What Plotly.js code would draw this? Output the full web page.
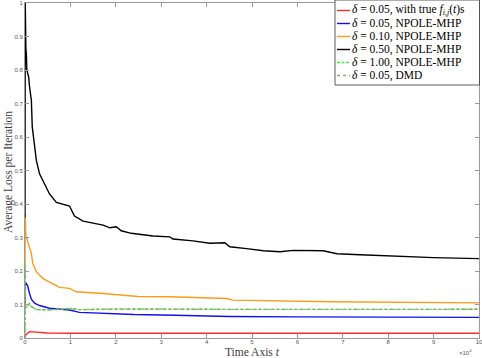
<!DOCTYPE html>
<html>
<head>
<meta charset="utf-8">
<script src="https://cdn.plot.ly/plotly-3.0.1.min.js"></script>
<style>
  html, body { margin: 0; padding: 0; background: #fff; }
  #chart { width: 482px; height: 358px; }
</style>
</head>
<body>
<div id="chart"></div>
<script>
// time axis values are in units of 10^4 iterations
const tRed = [0, 0.02, 0.1, 0.25, 0.5, 1, 3, 6, 10];
const lossRed = [0.0, 0.010, 0.019, 0.017, 0.015, 0.014, 0.014, 0.014, 0.014];

const tBlue = [0, 0.01, 0.03, 0.06, 0.1, 0.14, 0.21, 0.32, 0.54, 0.98, 1.2, 1.6, 2.4, 3.3, 4.5, 6, 8, 10];
const lossBlue = [0.10, 0.160, 0.163, 0.155, 0.133, 0.116, 0.104, 0.097, 0.089, 0.0836, 0.0766, 0.074, 0.070, 0.068, 0.064, 0.063, 0.062, 0.0617];

const tOrange = [0, 0.005, 0.02, 0.04, 0.08, 0.14, 0.17, 0.25, 0.39, 0.61, 0.76, 0.98, 1.13, 1.72, 2.09, 2.49, 3.19, 4.44, 4.58, 6.72, 10];
const lossOrange = [0.20, 0.37, 0.30, 0.298, 0.278, 0.253, 0.223, 0.198, 0.178, 0.163, 0.151, 0.148, 0.138, 0.133, 0.128, 0.124, 0.123, 0.118, 0.113, 0.108, 0.105];

const tBlack = [0, 0.005, 0.01, 0.02, 0.03, 0.04, 0.06, 0.08, 0.1, 0.14, 0.16, 0.21, 0.25, 0.32, 0.43, 0.54, 0.69, 0.85, 0.98,
  1.09, 1.28, 1.72, 1.87, 2.01, 2.12, 2.34, 2.82, 3.19, 3.26, 3.7, 4.07, 4.4, 4.51, 4.88, 5.25, 5.62, 5.91, 6.57, 6.87, 7.38, 8.12, 9.0, 10];
const lossBlack = [0.36, 1.0, 0.93, 0.86, 0.85, 0.80, 0.79, 0.78, 0.75, 0.71, 0.63, 0.58, 0.53, 0.49, 0.46, 0.43, 0.405, 0.40, 0.394,
  0.364, 0.349, 0.337, 0.329, 0.332, 0.320, 0.3125, 0.3045, 0.302, 0.2955, 0.290, 0.283, 0.2845, 0.2725, 0.2667, 0.2606, 0.2576, 0.2617, 0.2606, 0.2517, 0.2487, 0.2438, 0.2398, 0.2368];

const tGreen = [0, 0.005, 0.01, 0.05, 0.1, 0.13, 0.25, 0.54, 0.98, 1.2, 2, 4.5, 10];
const lossGreen = [0.0, 0.22, 0.090, 0.093, 0.104, 0.095, 0.085, 0.0836, 0.0886, 0.0846, 0.087, 0.0855, 0.0856];

const tDmd = [0, 0.005, 0.01, 0.05, 0.1, 0.13, 0.25, 0.54, 0.98, 1.2, 2, 4.5, 10];
const lossDmd = [0.0, 0.21, 0.090, 0.092, 0.102, 0.094, 0.085, 0.0836, 0.0876, 0.0846, 0.086, 0.0855, 0.0856];

const xTicks = [0, 1, 2, 3, 4, 5, 6, 7, 8, 9, 10];
const yTicks = [0, 0.1, 0.2, 0.3, 0.4, 0.5, 0.6, 0.7, 0.8, 0.9, 1];
const yTickText = ['0', '0.1', '0.2', '0.3', '0.4', '0.5', '0.6', '0.7', '0.8', '0.9', '1'];

const names = [
  '<i>δ</i> = 0.05, with true <i>f</i><sub><i>i,j</i></sub>(<i>t</i>)s',
  '<i>δ</i> = 0.05, NPOLE-MHP',
  '<i>δ</i> = 0.10, NPOLE-MHP',
  '<i>δ</i> = 0.50, NPOLE-MHP',
  '<i>δ</i> = 1.00, NPOLE-MHP',
  '<i>δ</i> = 0.05, DMD'
];
const colors = ['#ff2a2a', '#1010f0', '#ff9a1a', '#000000', '#44ee44', '#a09a78'];
const dashes = ['solid', 'solid', 'solid', 'solid', '3px,1.5px', '3px,3px'];

const series = [
  [tRed, lossRed], [tBlue, lossBlue], [tOrange, lossOrange],
  [tBlack, lossBlack], [tGreen, lossGreen], [tDmd, lossDmd]
];

const traces = series.map(([t, y], i) => ({
  x: t,
  y: y,
  type: 'scatter',
  mode: 'lines',
  name: names[i],
  line: { color: colors[i], width: 1.4, dash: dashes[i] }
}));

// plot area in pixels (used for the hand-drawn legend box)
const W = 482, H = 358;
const margin = { l: 25, r: 3, t: 3, b: 20 };
const plotW = W - margin.l - margin.r;
const plotH = H - margin.t - margin.b;
const px = v => (v - margin.l) / plotW;
const py = v => (H - margin.b - v) / plotH;

const serif = 'Liberation Serif, DejaVu Serif, serif';
const sans = 'Liberation Sans, Arial, sans-serif';

const shapes = [{
  type: 'rect', xref: 'paper', yref: 'paper',
  x0: px(335), x1: px(479.5), y0: py(85), y1: py(0),
  line: { color: '#333', width: 0.8 }, fillcolor: '#fff', layer: 'above'
}];
const annotations = [];
names.forEach((n, i) => {
  const yc = 10.5 + 13 * i;
  shapes.push({
    type: 'line', xref: 'paper', yref: 'paper',
    x0: px(337), x1: px(350), y0: py(yc), y1: py(yc),
    line: { color: colors[i], width: 1.4, dash: dashes[i] }, layer: 'above'
  });
  annotations.push({
    xref: 'paper', yref: 'paper', x: px(350), y: py(yc),
    xanchor: 'left', yanchor: 'middle', showarrow: false,
    text: n, font: { family: serif, size: 11.5, color: '#000' }
  });
});

annotations.push({
  xref: 'paper', yref: 'paper', x: 0.5, y: py(360),
  xanchor: 'center', yanchor: 'bottom', showarrow: false,
  text: 'Time Axis <i>t</i>', font: { family: serif, size: 11.5, color: '#404040' }
});
annotations.push({
  xref: 'paper', yref: 'paper', x: px(8), y: py(172),
  xanchor: 'center', yanchor: 'middle', showarrow: false, textangle: -90,
  text: 'Average Loss per Iteration', font: { family: serif, size: 11.5, color: '#404040' }
});
annotations.push({
  xref: 'paper', yref: 'paper', x: px(474), y: py(352),
  xanchor: 'right', yanchor: 'middle', showarrow: false,
  text: '×10<sup>4</sup>', font: { family: sans, size: 6, color: '#555' }
});

const axisBase = {
  showline: true, linecolor: '#9a9a9a', linewidth: 1, mirror: 'ticks',
  ticks: 'inside', ticklen: 4, tickcolor: '#9a9a9a', tickwidth: 1,
  showgrid: false, zeroline: false, ticklabeloverflow: 'allow',
  tickfont: { family: sans, size: 6, color: '#555' }
};

const layout = {
  width: W, height: H,
  margin: { l: margin.l, r: margin.r, t: margin.t, b: margin.b, pad: 0 },
  paper_bgcolor: '#fff',
  plot_bgcolor: '#fff',
  showlegend: false,
  xaxis: Object.assign({}, axisBase, {
    range: [0, 10], tickvals: xTicks, ticktext: xTicks.map(String), ticklabelstandoff: -2
  }),
  yaxis: Object.assign({}, axisBase, {
    range: [0, 1], tickvals: yTicks, ticktext: yTickText
  }),
  shapes: shapes,
  annotations: annotations
};

Plotly.newPlot('chart', traces, layout, { staticPlot: true, displayModeBar: false });
</script>
</body>
</html>
